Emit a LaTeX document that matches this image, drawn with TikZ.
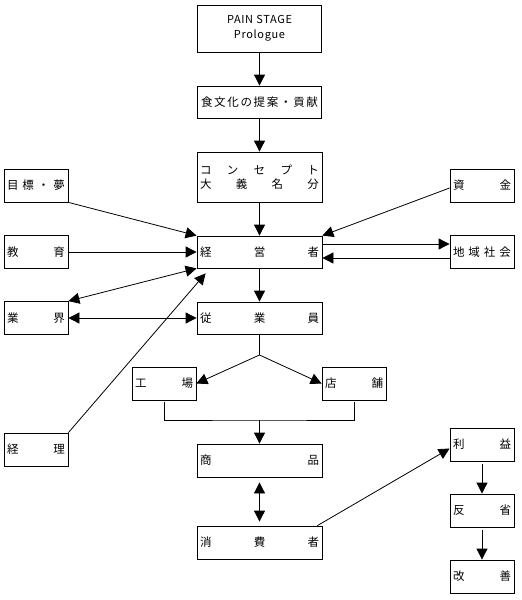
\documentclass[tikz,border=0pt]{standalone}
\usepackage{fontspec}
\setmainfont{Noto Sans CJK JP}
\usetikzlibrary{arrows.meta,calc}
\newcommand\spr[2]{\makebox[#1pt][s]{#2}}
\begin{document}
\begin{tikzpicture}[x=1pt,y=-1pt,
 box/.style={draw, line width=0.8pt, inner sep=0pt, font=\fontsize{11.5}{14}\selectfont},
 wide/.style={box, minimum width=125, minimum height=32},
 small/.style={box, minimum width=64, minimum height=33},
 arr/.style={-{Triangle[length=11pt,width=11pt]}, line width=0.8pt},
 darr/.style={{Triangle[length=11pt,width=11pt]}-{Triangle[length=11pt,width=11pt]}, line width=0.8pt},
 ln/.style={line width=0.8pt}]
\useasboundingbox (0,0) rectangle (522,600);
% nodes
\node[box, minimum width=124, minimum height=47, align=center, font=\fontsize{11}{15}\selectfont] (pain) at (259.5,28.5) {\addfontfeature{LetterSpace=6}PAIN STAGE\\\addfontfeature{LetterSpace=6}Prologue};
\node[wide, minimum width=124] (shoku) at (259.5,102) {\spr{117}{食\hfill 文\hfill 化\hfill の\hfill 提\hfill 案\hfill ・\hfill 貢\hfill 献}};
\node[wide, minimum height=50, align=center] (concept) at (259.5,177) {\spr{119}{コ\hfill ン\hfill セ\hfill プ\hfill ト}\\\spr{119}{大\hfill 義\hfill 名\hfill 分}};
\node[wide] (keiei) at (259.5,252) {\spr{119}{経\hfill 営\hfill 者}};
\node[small] (mokuhyo) at (36,185.5) {\spr{58}{目\hfill 標\hfill ・\hfill 夢}};
\node[small] (shikin) at (482,185.5) {\spr{58}{資\hfill 金}};
\node[small] (kyoiku) at (36,252) {\spr{58}{教\hfill 育}};
\node[small] (chiiki) at (482,252) {\spr{58}{地\hfill 域\hfill 社\hfill 会}};
\node[small] (gyokai) at (36,318) {\spr{58}{業\hfill 界}};
\node[wide] (jugyoin) at (259.5,318) {\spr{119}{従\hfill 業\hfill 員}};
\node[small] (kojo) at (164,383.5) {\spr{58}{工\hfill 場}};
\node[small] (tenpo) at (354,383.5) {\spr{58}{店\hfill 舗}};
\node[small] (keiri) at (36,449.5) {\spr{58}{経\hfill 理}};
\node[wide, minimum height=33] (shohin) at (259.5,460.5) {\spr{119}{商\hfill 品}};
\node[wide, minimum height=33] (shohisha) at (259.5,542.5) {\spr{119}{消\hfill 費\hfill 者}};
\node[small] (rieki) at (482,444.5) {\spr{58}{利\hfill 益}};
\node[small] (hansei) at (482,510.5) {\spr{58}{反\hfill 省}};
\node[small] (kaizen) at (482,576.5) {\spr{58}{改\hfill 善}};
% connectors
\draw[arr] (pain.south) -- (shoku.north);
\draw[arr] (shoku.south) -- (concept.north);
\draw[arr] (concept.south) -- (keiei.north);
\draw[arr] (mokuhyo.south east) -- (keiei.north west);
\draw[arr] ($(shikin.west)+(0,2.5)$) -- (keiei.north east);
\draw[arr] (kyoiku.east) -- (keiei.west);
\draw[arr] ($(keiei.east)+(0,-8)$) -- ($(chiiki.west)+(0,-8)$);
\draw[arr] ($(chiiki.west)+(0,6)$) -- ($(keiei.east)+(0,6)$);
\draw[darr] (gyokai.north east) -- (keiei.south west);
\draw[darr] (gyokai.east) -- (jugyoin.west);
\draw[arr] (keiri.north east) -- ($(keiei.south west)+(9,5)$);
\draw[arr] (keiei.south) -- (jugyoin.north);
\coordinate (sp) at (259.5,355);
\draw[ln] (jugyoin.south) -- (sp);
\draw[arr] (sp) -- (kojo.east);
\draw[arr] (sp) -- (tenpo.west);
\coordinate (jn) at (259.5,420);
\draw[ln] ($(kojo.south)+(0,2)$) |- (jn) -| ($(tenpo.south)+(0,2)$);
\draw[arr] (jn) -- (shohin.north);
\draw[darr, shorten <=5pt, shorten >=4pt] (shohin.south) -- (shohisha.north);
\draw[arr] ($(shohisha.north east)+(-5,0)$) -- ($(rieki.west)+(0,4)$);
\draw[arr, shorten <=3pt] (rieki.south) -- (hansei.north);
\draw[arr, shorten <=3pt] (hansei.south) -- (kaizen.north);
\end{tikzpicture}
\end{document}
